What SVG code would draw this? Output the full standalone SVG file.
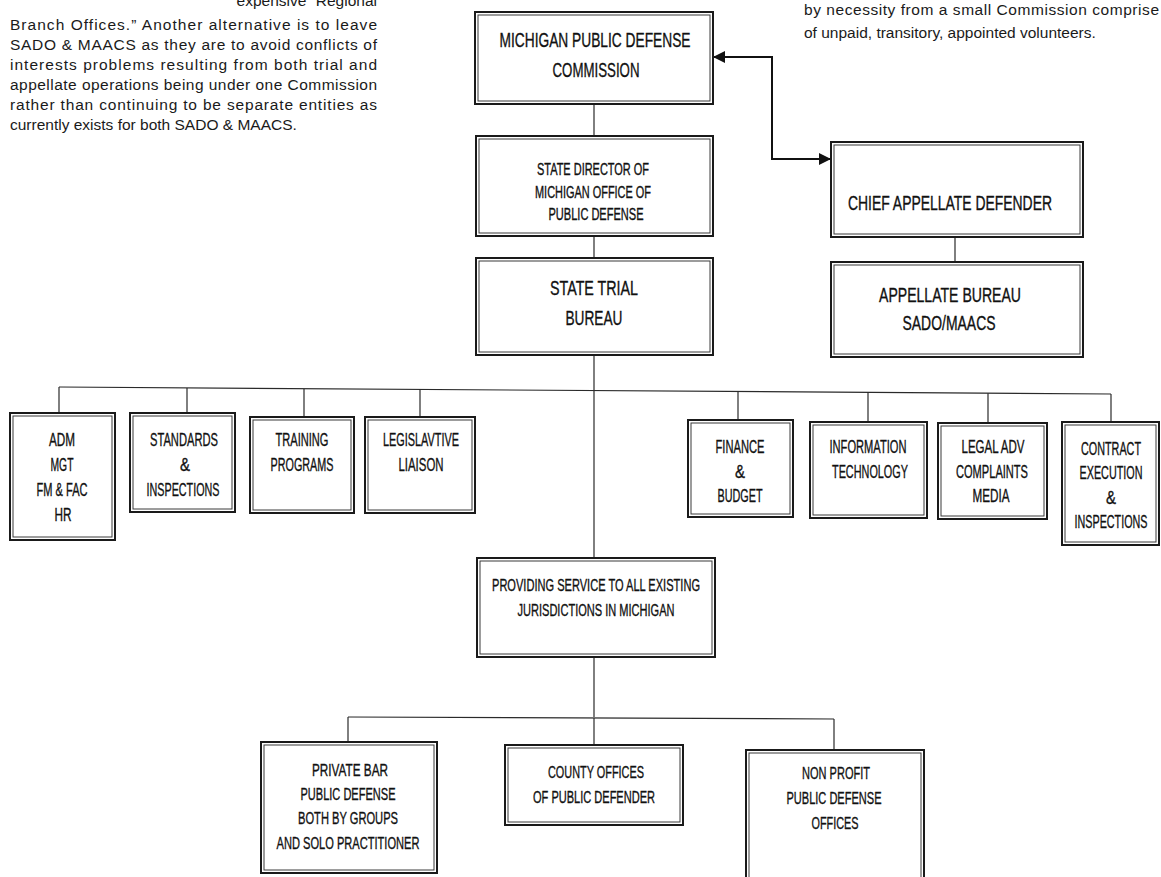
<svg xmlns="http://www.w3.org/2000/svg" width="1161" height="877" viewBox="0 0 1161 877">
<defs>
<marker id="ah" viewBox="0 0 12 12" refX="12" refY="6" markerWidth="12" markerHeight="12" markerUnits="userSpaceOnUse" orient="auto-start-reverse">
<path d="M0,0 L12,6 L0,12 z" fill="#111"/>
</marker>
</defs>
<style>
.o{fill:#fff;stroke:#1a1a1a;stroke-width:2}
.i{fill:none;stroke:#3a3a3a;stroke-width:1}
.t{font-family:"Liberation Sans Narrow","Liberation Sans",Arial,sans-serif;fill:#111;stroke:#111;stroke-width:0.35;text-anchor:middle}
.p{font-family:"Liberation Sans",Arial,sans-serif;font-size:15.5px;fill:#1a1a1a}
.c{fill:none;stroke:#2a2a2a;stroke-width:1.2}
.a{fill:none;stroke:#111;stroke-width:2}
</style>
<rect width="1161" height="877" fill="#fff"/>

<g id="note-left">
<text class="p" x="377" y="6" text-anchor="end">expensive “Regional</text>
<text class="p" x="10" y="30" textLength="367" lengthAdjust="spacing">Branch Offices.” Another alternative is to leave</text>
<text class="p" x="10" y="50" textLength="367" lengthAdjust="spacing">SADO &amp; MAACS as they are to avoid conflicts of</text>
<text class="p" x="10" y="70" textLength="367" lengthAdjust="spacing">interests problems resulting from both trial and</text>
<text class="p" x="10" y="90" textLength="367" lengthAdjust="spacing">appellate operations being under one Commission</text>
<text class="p" x="10" y="110" textLength="367" lengthAdjust="spacing">rather than continuing to be separate entities as</text>
<text class="p" x="10" y="130">currently exists for both SADO &amp; MAACS.</text>
</g>

<g id="note-right">
<text class="p" x="804" y="15" textLength="355" lengthAdjust="spacing">by necessity from a small Commission comprise</text>
<text class="p" x="804" y="38">of unpaid, transitory, appointed volunteers.</text>
</g>

<g id="connectors">
<line class="c" x1="594" y1="104" x2="594" y2="136"/>
<line class="c" x1="594" y1="236" x2="594" y2="258"/>
<line class="c" x1="594" y1="355" x2="594" y2="558"/>
<line class="c" x1="955" y1="237" x2="955" y2="262"/>
<polyline class="a" points="713,57 772,57 772,159 831,159" marker-start="url(#ah)" marker-end="url(#ah)"/>
<line class="c" x1="59" y1="387" x2="1111" y2="394"/>
<line class="c" x1="59" y1="387" x2="59" y2="413"/>
<line class="c" x1="187" y1="388" x2="187" y2="413"/>
<line class="c" x1="304" y1="389" x2="304" y2="417"/>
<line class="c" x1="420" y1="389" x2="420" y2="417"/>
<line class="c" x1="738" y1="391.5" x2="738" y2="420"/>
<line class="c" x1="868" y1="392.4" x2="868" y2="422"/>
<line class="c" x1="988" y1="393.2" x2="988" y2="423"/>
<line class="c" x1="1111" y1="394" x2="1111" y2="422"/>
<line class="c" x1="594" y1="657" x2="594" y2="717"/>
<line class="c" x1="348" y1="717" x2="834" y2="719"/>
<line class="c" x1="348" y1="717" x2="348" y2="742"/>
<line class="c" x1="594" y1="718" x2="594" y2="745"/>
<line class="c" x1="834" y1="719" x2="834" y2="750"/>
</g>

<g id="commission">
<rect class="o" x="475" y="12" width="238" height="92"/>
<rect class="i" x="478" y="15" width="232" height="86"/>
<text class="t" font-size="20" x="595" y="47" textLength="191" lengthAdjust="spacingAndGlyphs">MICHIGAN PUBLIC DEFENSE</text>
<text class="t" font-size="20" x="596" y="77" textLength="87" lengthAdjust="spacingAndGlyphs">COMMISSION</text>
</g>

<g id="state-director">
<rect class="o" x="476" y="136" width="237" height="100"/>
<rect class="i" x="479" y="139" width="231" height="94"/>
<text class="t" font-size="16" x="593" y="175" textLength="112" lengthAdjust="spacingAndGlyphs">STATE DIRECTOR OF</text>
<text class="t" font-size="16" x="593" y="198" textLength="116" lengthAdjust="spacingAndGlyphs">MICHIGAN OFFICE OF</text>
<text class="t" font-size="16" x="596" y="220" textLength="95" lengthAdjust="spacingAndGlyphs">PUBLIC DEFENSE</text>
</g>

<g id="state-trial-bureau">
<rect class="o" x="476" y="258" width="237" height="97"/>
<rect class="i" x="479" y="261" width="231" height="91"/>
<text class="t" font-size="21" x="594" y="295" textLength="88" lengthAdjust="spacingAndGlyphs">STATE TRIAL</text>
<text class="t" font-size="21" x="594" y="325" textLength="57" lengthAdjust="spacingAndGlyphs">BUREAU</text>
</g>

<g id="chief-appellate-defender">
<rect class="o" x="831" y="142" width="252" height="95"/>
<rect class="i" x="834" y="145" width="246" height="89"/>
<text class="t" font-size="21" x="950" y="210" textLength="204" lengthAdjust="spacingAndGlyphs">CHIEF APPELLATE DEFENDER</text>
</g>

<g id="appellate-bureau">
<rect class="o" x="831" y="262" width="252" height="95"/>
<rect class="i" x="834" y="265" width="246" height="89"/>
<text class="t" font-size="20" x="950" y="302" textLength="142" lengthAdjust="spacingAndGlyphs">APPELLATE BUREAU</text>
<text class="t" font-size="20" x="949" y="330" textLength="93" lengthAdjust="spacingAndGlyphs">SADO/MAACS</text>
</g>

<g id="adm">
<rect class="o" x="10" y="413" width="105" height="127"/>
<rect class="i" x="13" y="416" width="99" height="121"/>
<text class="t" font-size="18" x="62" y="446" textLength="26" lengthAdjust="spacingAndGlyphs">ADM</text>
<text class="t" font-size="18" x="62" y="471" textLength="23" lengthAdjust="spacingAndGlyphs">MGT</text>
<text class="t" font-size="18" x="62" y="496" textLength="51" lengthAdjust="spacingAndGlyphs">FM &amp; FAC</text>
<text class="t" font-size="18" x="63" y="521" textLength="17" lengthAdjust="spacingAndGlyphs">HR</text>
</g>

<g id="standards">
<rect class="o" x="130" y="413" width="105" height="99"/>
<rect class="i" x="133" y="416" width="99" height="93"/>
<text class="t" font-size="18" x="184" y="446" textLength="68" lengthAdjust="spacingAndGlyphs">STANDARDS</text>
<text class="t" font-size="18" x="185" y="471" textLength="10" lengthAdjust="spacingAndGlyphs">&amp;</text>
<text class="t" font-size="18" x="183" y="496" textLength="73" lengthAdjust="spacingAndGlyphs">INSPECTIONS</text>
</g>

<g id="training">
<rect class="o" x="250" y="417" width="104" height="96"/>
<rect class="i" x="253" y="420" width="98" height="90"/>
<text class="t" font-size="18" x="302" y="446" textLength="53" lengthAdjust="spacingAndGlyphs">TRAINING</text>
<text class="t" font-size="18" x="302" y="471" textLength="63" lengthAdjust="spacingAndGlyphs">PROGRAMS</text>
</g>

<g id="legislative">
<rect class="o" x="365" y="417" width="110" height="96"/>
<rect class="i" x="368" y="420" width="104" height="90"/>
<text class="t" font-size="18" x="421" y="446" textLength="76" lengthAdjust="spacingAndGlyphs">LEGISLAVTIVE</text>
<text class="t" font-size="18" x="421" y="471" textLength="45" lengthAdjust="spacingAndGlyphs">LIAISON</text>
</g>

<g id="finance">
<rect class="o" x="688" y="420" width="105" height="97"/>
<rect class="i" x="691" y="423" width="99" height="91"/>
<text class="t" font-size="18" x="740" y="453" textLength="49" lengthAdjust="spacingAndGlyphs">FINANCE</text>
<text class="t" font-size="18" x="740" y="478" textLength="10" lengthAdjust="spacingAndGlyphs">&amp;</text>
<text class="t" font-size="18" x="740" y="502" textLength="45" lengthAdjust="spacingAndGlyphs">BUDGET</text>
</g>

<g id="information-technology">
<rect class="o" x="810" y="422" width="117" height="96"/>
<rect class="i" x="813" y="425" width="111" height="90"/>
<text class="t" font-size="18" x="868" y="453" textLength="77" lengthAdjust="spacingAndGlyphs">INFORMATION</text>
<text class="t" font-size="18" x="870" y="478" textLength="76" lengthAdjust="spacingAndGlyphs">TECHNOLOGY</text>
</g>

<g id="legal-adv">
<rect class="o" x="938" y="423" width="109" height="96"/>
<rect class="i" x="941" y="426" width="103" height="90"/>
<text class="t" font-size="18" x="993" y="453" textLength="63" lengthAdjust="spacingAndGlyphs">LEGAL ADV</text>
<text class="t" font-size="18" x="992" y="478" textLength="72" lengthAdjust="spacingAndGlyphs">COMPLAINTS</text>
<text class="t" font-size="18" x="991" y="502" textLength="37" lengthAdjust="spacingAndGlyphs">MEDIA</text>
</g>

<g id="contract-execution">
<rect class="o" x="1062" y="422" width="97" height="123"/>
<rect class="i" x="1065" y="425" width="91" height="117"/>
<text class="t" font-size="18" x="1111" y="455" textLength="60" lengthAdjust="spacingAndGlyphs">CONTRACT</text>
<text class="t" font-size="18" x="1111" y="479" textLength="63" lengthAdjust="spacingAndGlyphs">EXECUTION</text>
<text class="t" font-size="18" x="1111" y="504" textLength="10" lengthAdjust="spacingAndGlyphs">&amp;</text>
<text class="t" font-size="18" x="1111" y="528" textLength="73" lengthAdjust="spacingAndGlyphs">INSPECTIONS</text>
</g>

<g id="providing-service">
<rect class="o" x="477" y="558" width="238" height="99"/>
<rect class="i" x="480" y="561" width="232" height="93"/>
<text class="t" font-size="17" x="596" y="591" textLength="208" lengthAdjust="spacingAndGlyphs">PROVIDING SERVICE TO ALL EXISTING</text>
<text class="t" font-size="17" x="596" y="616" textLength="157" lengthAdjust="spacingAndGlyphs">JURISDICTIONS IN MICHIGAN</text>
</g>

<g id="private-bar">
<rect class="o" x="261" y="742" width="176" height="131"/>
<rect class="i" x="264" y="745" width="170" height="125"/>
<text class="t" font-size="17" x="350" y="776" textLength="76" lengthAdjust="spacingAndGlyphs">PRIVATE BAR</text>
<text class="t" font-size="17" x="348" y="800" textLength="95" lengthAdjust="spacingAndGlyphs">PUBLIC DEFENSE</text>
<text class="t" font-size="17" x="348" y="824" textLength="100" lengthAdjust="spacingAndGlyphs">BOTH BY GROUPS</text>
<text class="t" font-size="17" x="348" y="849" textLength="143" lengthAdjust="spacingAndGlyphs">AND SOLO PRACTITIONER</text>
</g>

<g id="county-offices">
<rect class="o" x="505" y="745" width="178" height="80"/>
<rect class="i" x="508" y="748" width="172" height="74"/>
<text class="t" font-size="17" x="596" y="778" textLength="96" lengthAdjust="spacingAndGlyphs">COUNTY OFFICES</text>
<text class="t" font-size="17" x="594" y="803" textLength="122" lengthAdjust="spacingAndGlyphs">OF PUBLIC DEFENDER</text>
</g>

<g id="non-profit">
<rect class="o" x="746" y="750" width="178" height="135"/>
<rect class="i" x="749" y="753" width="172" height="129"/>
<text class="t" font-size="17" x="836" y="779" textLength="68" lengthAdjust="spacingAndGlyphs">NON PROFIT</text>
<text class="t" font-size="17" x="834" y="804" textLength="95" lengthAdjust="spacingAndGlyphs">PUBLIC DEFENSE</text>
<text class="t" font-size="17" x="835" y="829" textLength="47" lengthAdjust="spacingAndGlyphs">OFFICES</text>
</g>
</svg>
